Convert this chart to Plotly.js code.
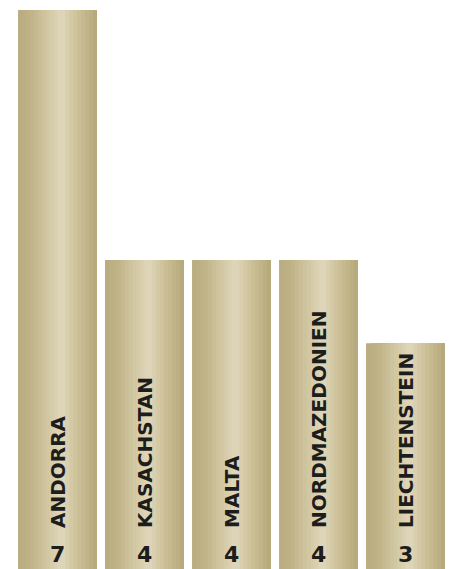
<!DOCTYPE html>
<html>
<head>
<meta charset="utf-8">
<script src="https://cdn.plot.ly/plotly-3.0.1.min.js"></script>
<style>html,body{margin:0;padding:0;background:#fff;overflow:hidden}#chart{width:449px;height:569px}</style>
</head>
<body>
<div id="chart"></div>
<script>
// Data
var countries = ["ANDORRA", "KASACHSTAN", "MALTA", "NORDMAZEDONIEN", "LIECHTENSTEIN"];
var values = [7, 4, 4, 4, 3];

// Gradient stops across bar width (styling only)
var stops = [
  [0.00, [185, 172, 128]],
  [0.15, [190, 178, 134]],
  [0.35, [207, 197, 159]],
  [0.55, [224, 215, 187]],
  [0.75, [204, 193, 152]],
  [1.00, [181, 167, 121]]
];
function colorAt(t) {
  for (var i = 0; i < stops.length - 1; i++) {
    var a = stops[i], b = stops[i + 1];
    if (t >= a[0] && t <= b[0]) {
      var f = (t - a[0]) / (b[0] - a[0]);
      var c = a[1].map(function (v, k) { return Math.round(v + (b[1][k] - v) * f); });
      return 'rgb(' + c.join(',') + ')';
    }
  }
  return 'rgb(' + stops[stops.length - 1][1].join(',') + ')';
}

var barWidth = 0.907;
var N = 20;
var strip = barWidth / N;
var traces = [];
for (var i = 0; i < N; i++) {
  traces.push({
    type: 'bar',
    x: countries,
    y: values,
    width: barWidth - i * strip,
    offset: -barWidth / 2 + i * strip,
    marker: { color: colorAt((i + 0.5) / N), line: { width: 0 } },
    hoverinfo: 'skip',
    showlegend: false
  });
}

var annotations = [];
countries.forEach(function (c, i) {
  annotations.push({
    x: c, xref: 'x', y: 1 - 530 / 569, yref: 'paper',
    text: c, textangle: -90, showarrow: false,
    xanchor: 'center', yanchor: 'bottom',
    font: { family: 'DejaVu Sans', size: 20, color: '#1d1d1b', weight: 'bold' }
  });
  annotations.push({
    x: c, xref: 'x', y: 1 - 554 / 569, yref: 'paper',
    text: String(values[i]), showarrow: false,
    xanchor: 'center', yanchor: 'middle',
    font: { family: 'DejaVu Sans', size: 22, color: '#1d1d1b', weight: 'bold' }
  });
});

var layout = {
  width: 449, height: 569,
  margin: { l: 14, r: 0, t: 0, b: 0, pad: 0 },
  barmode: 'overlay',
  paper_bgcolor: '#ffffff', plot_bgcolor: '#ffffff',
  xaxis: { type: 'category', range: [-0.5, 4.5], visible: false, fixedrange: true },
  yaxis: { range: [0.29, 7.12], visible: false, fixedrange: true },
  annotations: annotations,
  showlegend: false
};
Plotly.newPlot('chart', traces, layout, { displayModeBar: false, staticPlot: true });
</script>
</body>
</html>
